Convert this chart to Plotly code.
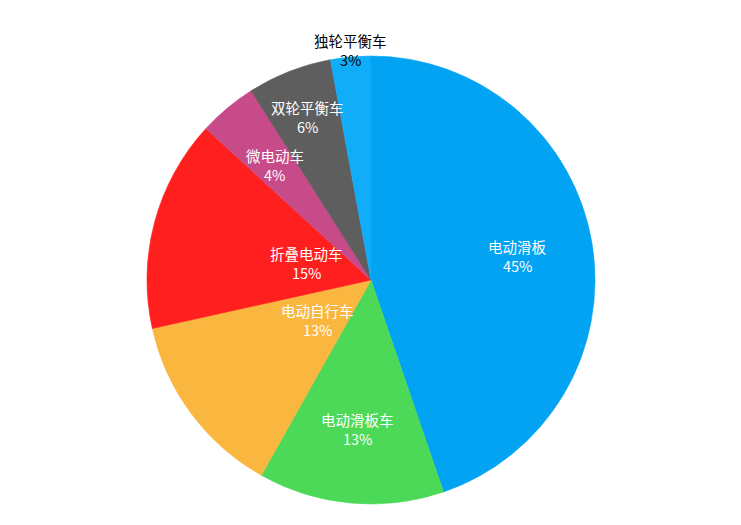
import math
import plotly.graph_objects as go

labels = ["电动滑板", "电动滑板车", "电动自行车", "折叠电动车", "微电动车", "双轮平衡车", "独轮平衡车"]
values = [44.8, 13.4, 13.4, 15.3, 4.2, 6.1, 2.9]
colors = ["#03A3F3", "#4CD957", "#FAB73F", "#FF1F1F", "#C74B89", "#5E5E5E", "#12ADF8"]

# where each label sits along its slice's bisector (fraction of radius)
label_r = [0.665, 0.67, 0.30, 0.30, 0.67, 0.78, 1.03]
label_color = ["white"] * 6 + ["black"]

W, H = 741, 525
M = dict(l=0, r=15, t=48, b=29)
plot_w = W - M["l"] - M["r"]
plot_h = H - M["t"] - M["b"]
radius = min(plot_w, plot_h) / 2

fig = go.Figure(go.Pie(
    labels=labels,
    values=values,
    sort=False,
    direction="clockwise",
    rotation=0,
    marker=dict(colors=colors, line=dict(width=0.6, color=colors)),
    textinfo="none",
    hoverinfo="label+percent",
    showlegend=False,
))

# text labels placed on the slice bisectors: name above, percent below
total = sum(values)
start = 0.0
annotations = []
for lab, v, f, c in zip(labels, values, label_r, label_color):
    mid = (start + v / 2) / total * 2 * math.pi
    start += v
    x = 0.5 + f * radius * math.sin(mid) / plot_w
    y = 0.5 + f * radius * math.cos(mid) / plot_h
    for txt, dy in [(lab, 9.5), (f"{round(v / total * 100)}%", -9.5)]:
        annotations.append(dict(
            x=x, y=y, xref="paper", yref="paper", yshift=dy,
            text=txt, showarrow=False,
            font=dict(color=c, size=14.5),
            xanchor="center", yanchor="middle",
        ))

fig.update_layout(
    width=W, height=H,
    margin=M,
    paper_bgcolor="white",
    font=dict(family="Noto Sans CJK SC", size=14),
    annotations=annotations,
)

fig.write_html("out.html")
